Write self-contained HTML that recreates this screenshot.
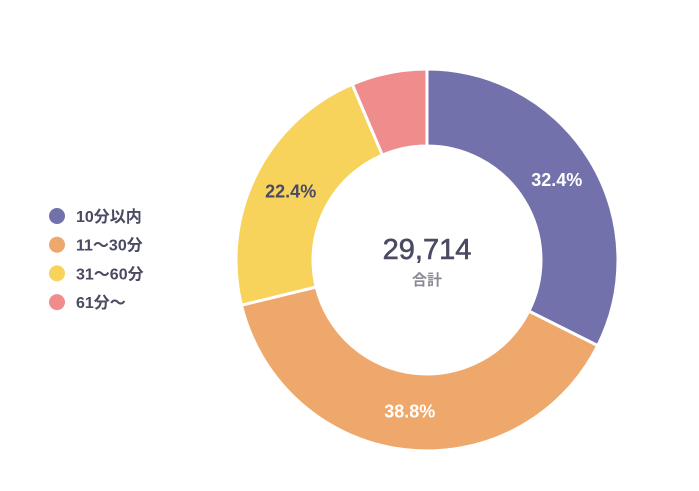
<!DOCTYPE html>
<html><head><meta charset="utf-8"><style>
body{margin:0;background:#fff;width:699px;height:486px;overflow:hidden;font-family:"Liberation Sans","Noto Sans CJK JP",sans-serif;}
</style></head><body>
<svg width="699" height="486" viewBox="0 0 699 486">
<g id="legend"></g>
<g id="slices"></g>
<g id="labels"></g>
<text x="427" y="259" text-anchor="middle" font-size="29" fill="#4a4a62" stroke="#4a4a62" stroke-width="0.6">29,714</text>
<text x="427" y="285" text-anchor="middle" font-size="15" font-weight="bold" fill="#8a8a96">合計</text>
</svg>
<script>
const categories=["10分以内","11〜30分","31〜60分","61分〜"];
const values=[32.4,38.8,22.4,6.4];
const labels=["32.4%","38.8%","22.4%",""];
const colors=["#7271ac","#eea86b","#f7d35c","#ef8c8c"];
const NS="http://www.w3.org/2000/svg";
const cx=427,cy=260,R=191,r=114;
const total=values.reduce((a,b)=>a+b,0);
function pt(a,rad){return [cx+rad*Math.sin(a),cy-rad*Math.cos(a)];}
let a0=0;
const sg=document.getElementById('slices'),lg=document.getElementById('labels'),leg=document.getElementById('legend');
values.forEach((v,i)=>{
 const a1=a0+v/total*2*Math.PI;
 const [x1,y1]=pt(a0,R),[x2,y2]=pt(a1,R),[x3,y3]=pt(a1,r),[x4,y4]=pt(a0,r);
 const lf=(a1-a0)>Math.PI?1:0;
 const p=document.createElementNS(NS,'path');
 p.setAttribute('d',`M${x1},${y1}A${R},${R} 0 ${lf} 1 ${x2},${y2}L${x3},${y3}A${r},${r} 0 ${lf} 0 ${x4},${y4}Z`);
 p.setAttribute('fill',colors[i]);p.setAttribute('stroke','#fff');p.setAttribute('stroke-width','3');
 
 
 sg.appendChild(p);
 if(labels[i]){
  const [lx,ly]=pt((a0+a1)/2,(R+r)/2);
  const t=document.createElementNS(NS,'text');
  t.setAttribute('x',lx);t.setAttribute('y',ly+6);t.setAttribute('text-anchor','middle');
  t.setAttribute('font-size','18');t.setAttribute('font-weight','bold');
  t.setAttribute('fill',i==2?'#4a4a62':'#fff');
  t.textContent=labels[i];
  
  
  lg.appendChild(t);
 }
 a0=a1;
});
categories.forEach((c,i)=>{
 const y=216+i*28.7;
 const g=document.createElementNS(NS,'g');
 
 
 const ci=document.createElementNS(NS,'circle');
 ci.setAttribute('cx',57);ci.setAttribute('cy',y);ci.setAttribute('r',8);ci.setAttribute('fill',colors[i]);
 const t=document.createElementNS(NS,'text');
 t.setAttribute('x',76);t.setAttribute('y',y+6);t.setAttribute('font-size','16');t.setAttribute('font-weight','bold');t.setAttribute('fill','#4a4a62');
 t.textContent=c;
 g.appendChild(ci);g.appendChild(t);leg.appendChild(g);
});
</script>
</body></html>
